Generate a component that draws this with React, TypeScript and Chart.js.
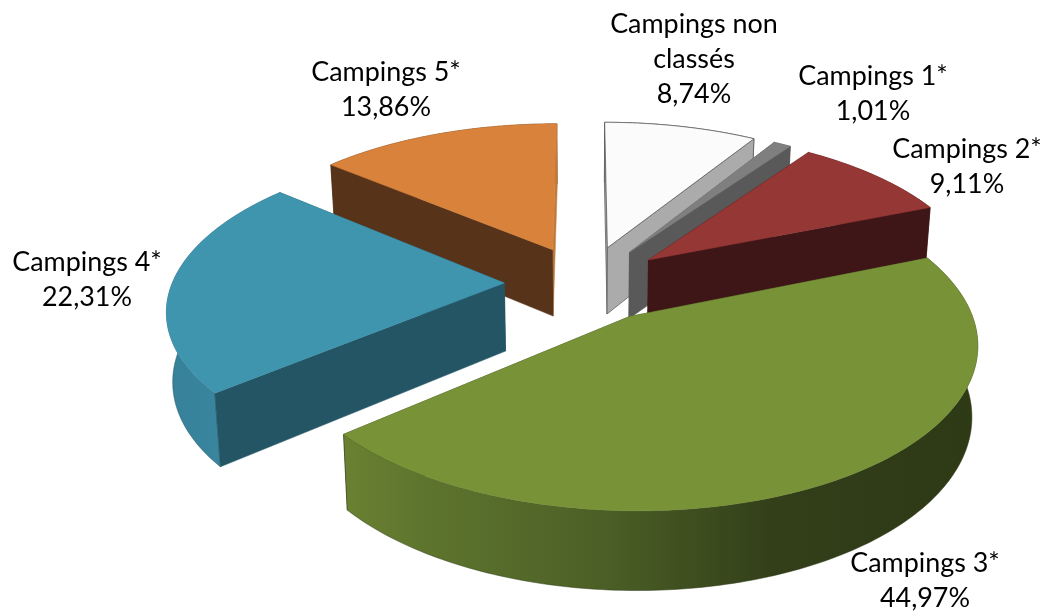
import React, { useEffect, useRef } from "react";
import { Chart, registerables } from "chart.js";

Chart.register(...registerables);

const categories = ["Campings non classés", "Campings 1*", "Campings 2*", "Campings 3*", "Campings 4*", "Campings 5*"];
const shares = [8.74, 1.01, 9.11, 44.97, 22.31, 13.86];

const topColors = ["#fbfbfb", "#7f7f7f", "#953735", "#789238", "#4095ae", "#d8823b"];
const wallColors = ["#ababab", "#595959", "#3f1617", "#303c18", "#245565", "#57331a"];
const endWallColors = ["#ababab", "#595959", "#3f1617", "#303c18", "#245565", "#c07a3c"];
const rimStops: [number, string][][] = [
  [[0, "#ababab"], [1, "#ababab"]],
  [[0, "#595959"], [1, "#595959"]],
  [[0, "#3f1617"], [1, "#3f1617"]],
  [[0, "#6a8132"], [0.12, "#5e752e"], [0.4, "#4c6026"], [0.68, "#323f19"], [1, "#2e3916"]],
  [[0, "#37819a"], [1, "#3b8ba3"]],
  [[0, "#57331a"], [1, "#57331a"]],
];
const outlineColors = ["#555555", null, null, null, null, null];
// painter's order, back to front
const drawOrder = [0, 1, 5, 2, 4, 3];
// text block of each label: centre x, first line y
const labelLines = [["Campings non", "classés"], ["Campings 1*"], ["Campings 2*"], ["Campings 3*"], ["Campings 4*"], ["Campings 5*"]];
const labelAnchors = [[694, 24], [873, 76], [967, 149], [925, 563], [87, 262], [386, 72]];

// view of the 3D pie
const VIEW = { cx: 586, cy: 283, scale: 332, persp: 0.15, tilt: 0.464, explode: 0.246, depth: 0.208, shrink: 0.985 };

function project(u: number, v: number, low: boolean) {
  const s = VIEW.scale / (1 + VIEW.persp * v);
  const k = low ? VIEW.shrink : 1;
  return {
    x: VIEW.cx + s * u * k,
    y: VIEW.cy - s * v * VIEW.tilt * k + (low ? s * k * VIEW.depth : 0),
  };
}

type P = { x: number; y: number };

function poly(ctx: CanvasRenderingContext2D, pts: P[]) {
  ctx.beginPath();
  pts.forEach((p, i) => (i ? ctx.lineTo(p.x, p.y) : ctx.moveTo(p.x, p.y)));
  ctx.closePath();
}

function paint(ctx: CanvasRenderingContext2D, pts: P[], fill: any, outline: string | null, solid: string) {
  poly(ctx, pts);
  ctx.fillStyle = fill;
  ctx.fill();
  ctx.lineJoin = "round";
  ctx.strokeStyle = outline ?? solid;
  ctx.lineWidth = outline ? 0.7 : 0.5;
  ctx.stroke();
}

const pie3d = {
  id: "pie3d",
  beforeDatasetsDraw(chart: any) {
    const ctx: CanvasRenderingContext2D = chart.ctx;
    const arcs = chart.getDatasetMeta(0).data;
    ctx.save();
    drawOrder.forEach((i) => {
      const arc = arcs[i];
      const a0 = arc.startAngle + Math.PI / 2;
      const a1 = arc.endAngle + Math.PI / 2;
      const mid = (a0 + a1) / 2;
      const ox = VIEW.explode * Math.sin(mid);
      const oy = VIEW.explode * Math.cos(mid);
      const n = Math.max(4, Math.ceil((a1 - a0) * 60));
      const ring: [number, number][] = [];
      for (let k = 0; k <= n; k++) {
        const t = a0 + ((a1 - a0) * k) / n;
        ring.push([ox + Math.sin(t), oy + Math.cos(t)]);
      }
      const tip: [number, number] = [ox, oy];
      const first = ring[0];
      const last = ring[n];
      const top = ring.map(([u, v]) => project(u, v, false));
      const bottom = ring.map(([u, v]) => project(u, v, true));
      const xs = top.concat(bottom).map((p) => p.x);
      const grad = ctx.createLinearGradient(Math.min(...xs), 0, Math.max(...xs), 0);
      rimStops[i].forEach(([s, c]) => grad.addColorStop(s, c));

      const wall = (e: [number, number]) => [
        project(tip[0], tip[1], false),
        project(e[0], e[1], false),
        project(e[0], e[1], true),
        project(tip[0], tip[1], true),
      ];
      const faces = [
        { v: (tip[1] + first[1]) / 2, pts: wall(first), fill: wallColors[i] as any, solid: wallColors[i] },
        { v: (tip[1] + last[1]) / 2, pts: wall(last), fill: endWallColors[i] as any, solid: endWallColors[i] },
        { v: ring.reduce((a, r) => a + r[1], 0) / ring.length, pts: top.concat(bottom.slice().reverse()), fill: grad as any, solid: wallColors[i] },
      ].sort((a, b) => b.v - a.v);
      faces.forEach((f) => paint(ctx, f.pts, f.fill, outlineColors[i], f.solid));
      paint(ctx, [project(tip[0], tip[1], false), ...top], topColors[i], outlineColors[i], topColors[i]);
    });
    ctx.restore();
    return false;
  },
  afterDraw(chart: any) {
    const ctx: CanvasRenderingContext2D = chart.ctx;
    ctx.save();
    ctx.font = '26.9px Lato, "Open Sans", sans-serif';
    ctx.fillStyle = "#000";
    ctx.textAlign = "center";
    ctx.textBaseline = "middle";
    shares.forEach((value, i) => {
      const lines = [...labelLines[i], value.toFixed(2).replace(".", ",") + "%"];
      lines.forEach((t, j) => ctx.fillText(t, labelAnchors[i][0], labelAnchors[i][1] + j * 35));
    });
    ctx.restore();
  },
};

export default function App() {
  const ref = useRef<HTMLCanvasElement>(null);
  useEffect(() => {
    document.body.style.margin = "0";
    const chart = new Chart(ref.current as HTMLCanvasElement, {
      type: "pie",
      data: { labels: categories, datasets: [{ data: shares, backgroundColor: topColors, borderWidth: 0 }] },
      options: {
        animation: false,
        responsive: false,
        plugins: { legend: { display: false }, tooltip: { enabled: false } },
      },
      plugins: [pie3d],
    } as any);
    return () => chart.destroy();
  }, []);
  return <canvas ref={ref} width={1046} height={611} style={{ display: "block" }} />;
}
